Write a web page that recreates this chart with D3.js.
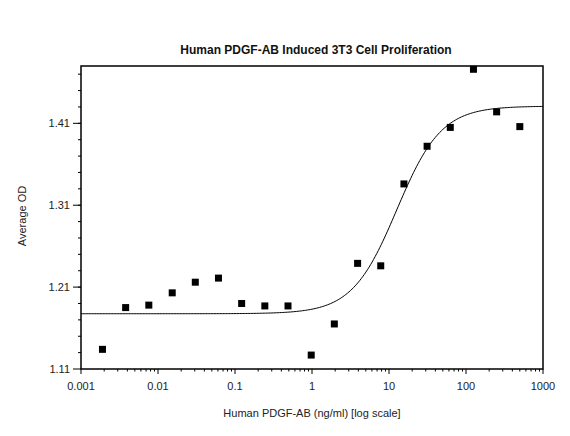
<!DOCTYPE html>
<html>
<head>
<meta charset="utf-8">
<script src="https://cdn.jsdelivr.net/npm/d3@7"></script>
<style>
  body { margin: 0; background: #fff; }
  text { font-family: "Liberation Sans", Arial, sans-serif; }
</style>
</head>
<body>
<div id="chart"></div>
<script>
// Data (two-fold dilutions from 500 ng/ml)
var conc = [0.0019, 0.0038, 0.0076, 0.0153, 0.0305, 0.061, 0.122, 0.244, 0.488, 0.977, 1.95, 3.91, 7.81, 15.63, 31.25, 62.5, 125, 250, 500];
var od = [1.134, 1.185, 1.188, 1.203, 1.216, 1.221, 1.190, 1.187, 1.187, 1.127, 1.165, 1.239, 1.236, 1.336, 1.382, 1.405, 1.476, 1.424, 1.406];
// 4PL fit parameters (bottom, top, EC50, hill)
var fit = {bottom: 1.1775, top: 1.431, ec50: 12.6, hill: 1.5};
var xTicks = [0.001, 0.01, 0.1, 1, 10, 100, 1000];
var xTickLabels = ["0.001", "0.01", "0.1", "1", "10", "100", "1000"];
var yTicks = [1.11, 1.21, 1.31, 1.41];

var width = 570, height = 436;
var margin = {top: 66, right: 27, bottom: 67, left: 81};

var svg = d3.select("#chart")
    .append("svg")
        .attr("width", width)
        .attr("height", height);

var x = d3.scaleLog()
    .domain([0.001, 1000])
    .range([margin.left, width - margin.right]);
var y = d3.scaleLinear()
    .domain([1.11, 1.48])
    .range([height - margin.bottom, margin.top]);

// Title
svg.append("text")
    .attr("x", 316)
    .attr("y", 54)
    .attr("text-anchor", "middle")
    .attr("font-size", "12px")
    .attr("font-weight", "bold")
    .attr("fill", "#111")
    .text("Human PDGF-AB Induced 3T3 Cell Proliferation");

// Plot frame
svg.append("rect")
    .attr("x", x(0.001))
    .attr("y", y(1.48))
    .attr("width", x(1000) - x(0.001))
    .attr("height", y(1.11) - y(1.48))
    .attr("fill", "none")
    .attr("stroke", "#000")
    .attr("stroke-width", 1.5);

// X axis: major and minor ticks
var minorX = [];
for (let d = -3; d < 3; d++) {
    for (let k = 2; k <= 9; k++) minorX.push(k * Math.pow(10, d));
}
var xAxis = svg.append("g");
xAxis.selectAll(".minor")
    .data(minorX)
    .join("line")
        .attr("x1", d => x(d)).attr("x2", d => x(d))
        .attr("y1", y(1.11)).attr("y2", y(1.11) + 2.5)
        .attr("stroke", "#000");
xAxis.selectAll(".major")
    .data(xTicks)
    .join("line")
        .attr("x1", d => x(d)).attr("x2", d => x(d))
        .attr("y1", y(1.11)).attr("y2", y(1.11) + 5)
        .attr("stroke", "#000");
xAxis.selectAll("text")
    .data(xTicks)
    .join("text")
        .attr("x", d => x(d))
        .attr("y", y(1.11) + 21)
        .attr("text-anchor", "middle")
        .attr("font-size", "11px")
        .attr("fill", "#222")
        .text((d, i) => xTickLabels[i]);

// Y axis: major and minor ticks
var minorY = d3.range(1.13, 1.48, 0.02);
var yAxis = svg.append("g");
yAxis.selectAll(".minor")
    .data(minorY)
    .join("line")
        .attr("x1", x(0.001) - 3).attr("x2", x(0.001))
        .attr("y1", d => y(d)).attr("y2", d => y(d))
        .attr("stroke", "#000");
yAxis.selectAll(".major")
    .data(yTicks)
    .join("line")
        .attr("x1", x(0.001) - 8).attr("x2", x(0.001))
        .attr("y1", d => y(d)).attr("y2", d => y(d))
        .attr("stroke", "#000");
yAxis.selectAll("text")
    .data(yTicks)
    .join("text")
        .attr("x", x(0.001) - 11)
        .attr("y", d => y(d) + 4)
        .attr("text-anchor", "end")
        .attr("font-size", "11px")
        .attr("fill", "#222")
        .text(d => d.toFixed(2));

// Axis titles
svg.append("text")
    .attr("x", 312)
    .attr("y", 417)
    .attr("text-anchor", "middle")
    .attr("font-size", "11px")
    .attr("fill", "#222")
    .text("Human PDGF-AB (ng/ml) [log scale]");
svg.append("text")
    .attr("transform", "translate(26,216) rotate(-90)")
    .attr("text-anchor", "middle")
    .attr("font-size", "11px")
    .attr("fill", "#222")
    .text("Average OD");

// Fitted curve
function model(c) {
    return fit.bottom + (fit.top - fit.bottom) / (1 + Math.pow(fit.ec50 / c, fit.hill));
}
var curveX = d3.range(-3, 3.001, 0.02).map(e => Math.pow(10, e));
var line = d3.line()
    .x(d => x(d))
    .y(d => y(model(d)));
svg.append("path")
    .datum(curveX)
    .attr("d", line)
    .attr("fill", "none")
    .attr("stroke", "#000")
    .attr("stroke-width", 1);

// Data points
svg.append("g")
    .selectAll("rect")
    .data(conc)
    .join("rect")
        .attr("x", d => x(d) - 3.5)
        .attr("y", (d, i) => y(od[i]) - 3.5)
        .attr("width", 7)
        .attr("height", 7)
        .attr("fill", "#000");
</script>
</body>
</html>
